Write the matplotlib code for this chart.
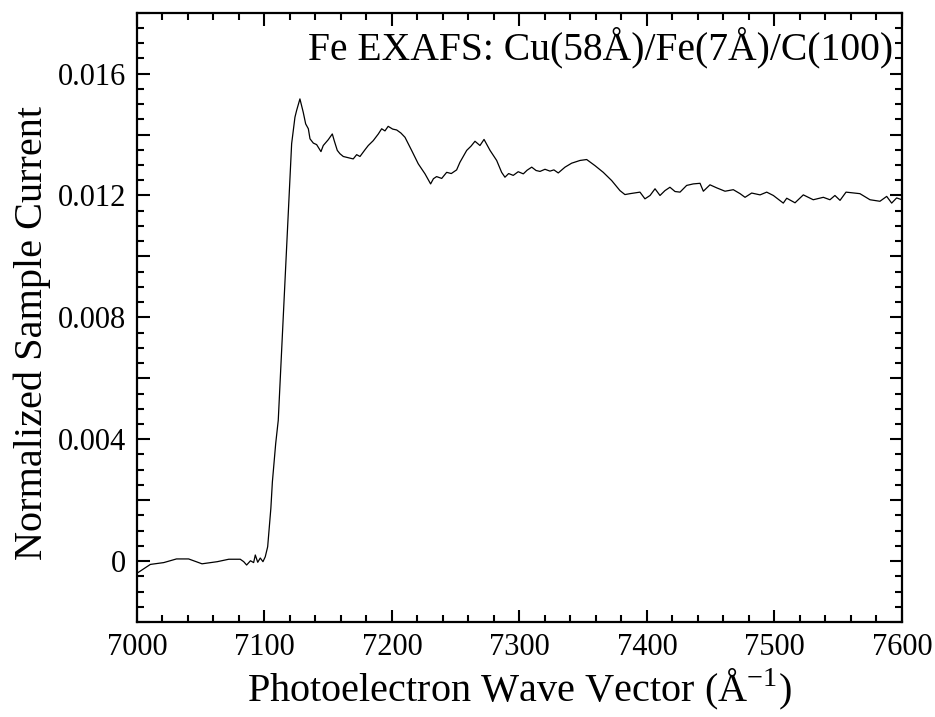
import numpy as np
import matplotlib
matplotlib.use('Agg')
import matplotlib.pyplot as plt
from matplotlib.ticker import MultipleLocator, FuncFormatter

# photon energy (x) and normalized sample current (y)
energy = [7000, 7010.5, 7021, 7031, 7040.5, 7051, 7063, 7072, 7081, 7083.7,
          7086, 7089, 7091.5, 7092.8, 7094.7, 7096.7, 7098.8, 7100.6, 7102.5,
          7105, 7106.2, 7108.8, 7110.8, 7114.5, 7118.7, 7121.3, 7123.9, 7125.2,
          7127.8, 7130.4, 7132.3, 7134.4, 7135.7, 7138.3, 7140.9, 7144.3, 7146.1,
          7150, 7153.2, 7154.7, 7157.1, 7159.2, 7161.8, 7165.7, 7169.6, 7172.3,
          7174.9, 7178.8, 7181.4, 7185.3, 7189.3, 7191.9, 7194.5, 7197, 7200.5,
          7203.7, 7207, 7210.2, 7215.4, 7220.6, 7225.9, 7230.3, 7232.5, 7235,
          7239, 7242.9, 7246.5, 7250.7, 7253.3, 7258.6, 7262, 7265.1, 7269,
          7272.2, 7276.9, 7282.1, 7286, 7288.6, 7291.5, 7295.1, 7299, 7303,
          7306, 7309.6, 7313, 7316.1, 7320, 7323.9, 7327, 7330.4, 7335.7, 7340.9,
          7347.5, 7352.7, 7359.2, 7365.7, 7372.3, 7378.8, 7382.7, 7386.7, 7394.5,
          7398.4, 7402.4, 7406.3, 7410.2, 7414.1, 7418, 7422, 7425.9, 7431.1,
          7436.3, 7441.6, 7444.2, 7449.4, 7454.7, 7461.2, 7467.7, 7473, 7476.9,
          7482.1, 7488.7, 7493.9, 7499.1, 7506.9, 7509.6, 7516.1, 7522.6, 7530.4,
          7538.3, 7543.5, 7547.4, 7551.4, 7556.1, 7560.5, 7567, 7574.9, 7582.7,
          7588, 7591.9, 7595.8, 7600]
current = [-0.0004, -0.00011, -0.00005, 0.00007, 0.00007, -0.00009, -0.00002,
           0.00006, 0.00006, -0.00002, -0.00013, 0.00001, -0.00005, 0.0002,
           -0.00004, 0.0001, -0.00002, 0.00014, 0.00047, 0.00173, 0.0026,
           0.00386, 0.00462, 0.0078, 0.0114, 0.0137, 0.01457, 0.01479, 0.01517,
           0.01473, 0.01435, 0.01419, 0.01386, 0.01372, 0.01367, 0.01344, 0.01364,
           0.01383, 0.01402, 0.0138, 0.01348, 0.01337, 0.01328, 0.01324, 0.0132,
           0.01334, 0.01328, 0.0135, 0.01364, 0.0138, 0.01402, 0.01419, 0.01412,
           0.01427, 0.01418, 0.01415, 0.01405, 0.01391, 0.01348, 0.01304, 0.01271,
           0.01238, 0.01255, 0.01262, 0.01256, 0.01276, 0.01272, 0.01284, 0.01309,
           0.01348, 0.01362, 0.01378, 0.01364, 0.01384, 0.01348, 0.01315, 0.01276,
           0.0126, 0.01272, 0.01266, 0.01278, 0.01271, 0.01283, 0.01293, 0.01282,
           0.01279, 0.01286, 0.0128, 0.01284, 0.01274, 0.01293, 0.01306, 0.01315,
           0.01318, 0.01298, 0.01276, 0.01249, 0.01216, 0.01203, 0.01206, 0.01211,
           0.01189, 0.012, 0.01222, 0.012, 0.01216, 0.01227, 0.01213, 0.01211,
           0.01233, 0.01238, 0.0124, 0.01214, 0.01235, 0.01225, 0.01214, 0.01219,
           0.01206, 0.01194, 0.01208, 0.01202, 0.01211, 0.012, 0.01175, 0.01191,
           0.01176, 0.01202, 0.01186, 0.01194, 0.01186, 0.012, 0.01184, 0.01211,
           0.01209, 0.01206, 0.01186, 0.01181, 0.01197, 0.01175, 0.01192, 0.01186]

title = 'Fe EXAFS: Cu(58Å)/Fe(7Å)/C(100)'

plt.rcParams['font.family'] = ['Liberation Serif', 'DejaVu Serif']
plt.rcParams['mathtext.fontset'] = 'custom'
plt.rcParams['mathtext.rm'] = 'Liberation Serif'

fig = plt.figure(figsize=(9.35, 7.17), dpi=100)
ax = fig.add_axes([0.1465, 0.1325, 0.8182, 0.8498])
ax.plot(energy, current, color='black', lw=0.9)

ax.set_xlim(7000, 7600)
ax.set_ylim(-0.002, 0.018)
ax.xaxis.set_major_locator(MultipleLocator(100))
ax.xaxis.set_minor_locator(MultipleLocator(20))
ax.yaxis.set_major_locator(MultipleLocator(0.002))
ax.yaxis.set_minor_locator(MultipleLocator(0.0005))

def ylab(v, pos):
  k = int(round(v / 0.002))
  if k % 2 != 0 or k < 0:
    return ''
  if k == 0:
    return '0'
  return '%.3f' % v
ax.yaxis.set_major_formatter(FuncFormatter(ylab))

ax.tick_params(which='both', direction='in', top=True, right=True, width=1.5,
               labelsize=22, pad=8)
ax.tick_params(which='major', length=9)
ax.tick_params(which='minor', length=5)
for s in ax.spines.values():
  s.set_linewidth(1.6)

ax.set_xlabel('Photoelectron Wave Vector (Å$^{\\mathregular{-1}}$)', fontsize=29, labelpad=3)
ax.set_ylabel('Normalized Sample Current', fontsize=29)
ax.yaxis.set_label_coords(-0.112, 0.475)
ax.text(0.988, 0.943, title, transform=ax.transAxes, ha='right', va='center', fontsize=28.5)

fig.savefig('out.png', dpi=100)
